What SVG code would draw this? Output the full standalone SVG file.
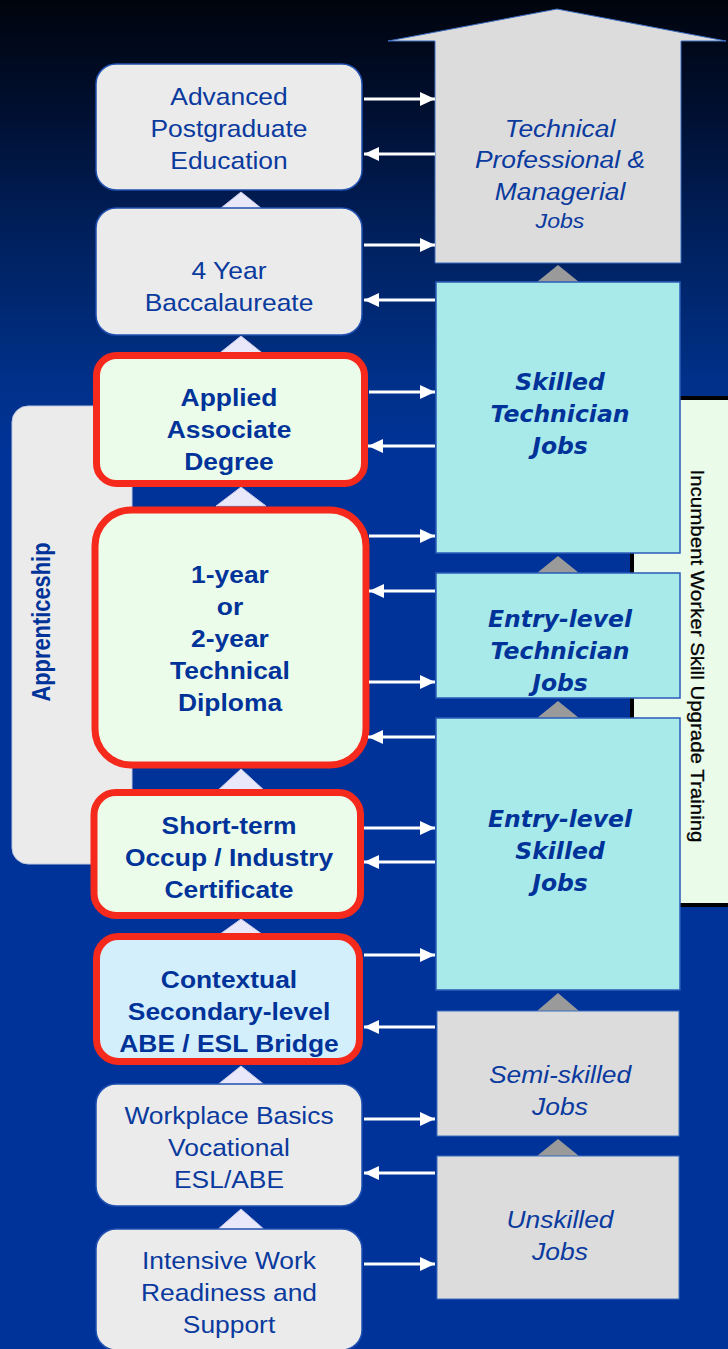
<svg xmlns="http://www.w3.org/2000/svg" width="728" height="1349" viewBox="0 0 728 1349">
  <defs>
    <linearGradient id="bg" x1="0" y1="0" x2="0" y2="1349" gradientUnits="userSpaceOnUse">
      <stop offset="0" stop-color="#00040c"/>
      <stop offset="0.08" stop-color="#000f30"/>
      <stop offset="0.18" stop-color="#00215f"/>
      <stop offset="0.28" stop-color="#003088"/>
      <stop offset="0.34" stop-color="#003399"/>
      <stop offset="1" stop-color="#003399"/>
    </linearGradient>
    <marker id="head" markerUnits="userSpaceOnUse" markerWidth="16" markerHeight="16" refX="15" refY="7" orient="auto">
      <path d="M0,0 L15,7 L0,14 z" fill="#ffffff"/>
    </marker>
    <style>
      .edu { fill: #ebebeb; stroke: #2050b0; stroke-width: 1.5; }
      .key { fill: #ebfdea; stroke: #f52a1c; stroke-width: 7; }
      .bridge { fill: #d4effc; stroke: #f52a1c; stroke-width: 7; }
      .job { fill: #dcdcdc; stroke: #3a6cc0; stroke-width: 1; }
      .tech { fill: #a8eaea; stroke: #2a5cb8; stroke-width: 1.5; }
      .up { fill: #e8e8fa; stroke: #c8c8e8; stroke-width: 1; }
      .upjob { fill: #9a9a9a; }
      .reg { font-family: "Liberation Sans", Arial, sans-serif; font-size: 24px; fill: #0a3a9e; text-anchor: middle; }
      .bold { font-family: "Liberation Sans", Arial, sans-serif; font-size: 24px; font-weight: bold; fill: #003399; text-anchor: middle; }
      .ital { font-family: "Liberation Sans", Arial, sans-serif; font-size: 24px; font-style: italic; fill: #0a3a9e; text-anchor: middle; }
      .bital { font-family: "DejaVu Sans", Verdana, sans-serif; font-size: 23.5px; font-weight: bold; font-style: italic; fill: #003399; text-anchor: middle; }
      .link { stroke: #ffffff; stroke-width: 3; fill: none; marker-end: url(#head); }
    </style>
  </defs>

  <rect x="0" y="0" width="728" height="1349" fill="url(#bg)"/>

  <!-- side bands -->
  <g id="apprenticeship">
    <rect x="12" y="406" width="120" height="458" rx="16" fill="#ebebeb" stroke="#c0c8e0" stroke-width="1"/>
    <text transform="translate(50 622) rotate(-90)" font-family="Liberation Sans, Arial, sans-serif" font-size="26" font-weight="bold" fill="#003399" text-anchor="middle" textLength="159" lengthAdjust="spacingAndGlyphs">Apprenticeship</text>
  </g>
  <g id="incumbent">
    <rect x="632" y="398" width="130" height="507" rx="8" fill="#eafbea" stroke="#000000" stroke-width="4"/>
    <text transform="translate(691 656) rotate(90)" font-family="Liberation Sans, Arial, sans-serif" font-size="19" fill="#000000" stroke="#000000" stroke-width="0.3" text-anchor="middle" textLength="373" lengthAdjust="spacingAndGlyphs">Incumbent Worker Skill Upgrade Training</text>
  </g>

  <!-- upward steps between education levels -->
  <g id="steps">
    <polygon class="up" points="216,212 241,192 266,212"/>
    <polygon class="up" points="216,356 241,336 266,356"/>
    <polygon class="up" points="216,506 241,487 266,506"/>
    <polygon class="up" points="216,792 241,769 266,792"/>
    <polygon class="up" points="216,937 241,919 266,937"/>
    <polygon class="up" points="216,1086 241,1066 266,1086"/>
    <polygon class="up" points="216,1231 241,1209 266,1231" fill="#ffffff"/>
    <polygon class="upjob" points="537,282 558,265 579,282"/>
    <polygon class="upjob" points="537,573 558,556 579,573"/>
    <polygon class="upjob" points="537,718 558,701 579,718"/>
    <polygon class="upjob" points="537,1011 558,993 579,1011"/>
    <polygon class="upjob" points="537,1156 558,1139 579,1156"/>
  </g>

  <!-- education column -->
  <g id="postgraduate">
    <rect class="edu" x="96" y="64" width="266" height="126" rx="20"/>
    <text class="reg" transform="matrix(1.1 0 0 1 229 0)"><tspan x="0" y="105">Advanced</tspan><tspan x="0" y="137">Postgraduate</tspan><tspan x="0" y="169">Education</tspan></text>
  </g>
  <g id="baccalaureate">
    <rect class="edu" x="96" y="208" width="266" height="127" rx="20"/>
    <text class="reg" transform="matrix(1.1 0 0 1 229 0)"><tspan x="0" y="279">4 Year</tspan><tspan x="0" y="311">Baccalaureate</tspan></text>
  </g>
  <g id="associate">
    <rect class="key" x="96.5" y="355.5" width="268" height="128" rx="20"/>
    <text class="bold" transform="matrix(1.1 0 0 1 229 0)"><tspan x="0" y="406">Applied</tspan><tspan x="0" y="438">Associate</tspan><tspan x="0" y="470">Degree</tspan></text>
  </g>
  <g id="diploma">
    <rect class="key" x="95" y="510" width="271" height="255" rx="36" stroke-width="8"/>
    <text class="bold" transform="matrix(1.1 0 0 1 230 0)"><tspan x="0" y="583">1-year</tspan><tspan x="0" y="615">or</tspan><tspan x="0" y="647">2-year</tspan><tspan x="0" y="679">Technical</tspan><tspan x="0" y="711">Diploma</tspan></text>
  </g>
  <g id="certificate">
    <rect class="key" x="94" y="792.5" width="266.5" height="123" rx="22"/>
    <text class="bold" transform="matrix(1.1 0 0 1 229 0)"><tspan x="0" y="834">Short-term</tspan><tspan x="0" y="866">Occup / Industry</tspan><tspan x="0" y="898">Certificate</tspan></text>
  </g>
  <g id="bridge">
    <rect class="bridge" x="96.5" y="936.5" width="263" height="125" rx="22"/>
    <text class="bold" transform="matrix(1.1 0 0 1 229 0)"><tspan x="0" y="988">Contextual</tspan><tspan x="0" y="1020">Secondary-level</tspan><tspan x="0" y="1052">ABE / ESL Bridge</tspan></text>
  </g>
  <g id="workplace-basics">
    <rect class="edu" x="96" y="1084" width="266" height="122" rx="20" stroke="none"/>
    <text class="reg" transform="matrix(1.1 0 0 1 229 0)"><tspan x="0" y="1124">Workplace Basics</tspan><tspan x="0" y="1156">Vocational</tspan><tspan x="0" y="1188">ESL/ABE</tspan></text>
  </g>
  <g id="work-readiness">
    <rect class="edu" x="96" y="1229" width="266" height="121" rx="20" stroke="none"/>
    <text class="reg" transform="matrix(1.1 0 0 1 229 0)"><tspan x="0" y="1269">Intensive Work</tspan><tspan x="0" y="1301">Readiness and</tspan><tspan x="0" y="1333">Support</tspan></text>
  </g>

  <!-- jobs column -->
  <g id="professional-jobs">
    <polygon class="job" points="435,263 435,41 388,41 557,9 726,41 681,41 681,263"/>
    <text class="ital" transform="matrix(1.1 0 0 1 560 0)"><tspan x="0" y="137">Technical</tspan><tspan x="0" y="168">Professional &amp;</tspan><tspan x="0" y="200">Managerial</tspan><tspan x="0" y="228" font-size="21">Jobs</tspan></text>
  </g>
  <g id="skilled-technician">
    <rect class="tech" x="436" y="282" width="244" height="271"/>
    <text class="bital"><tspan x="560" y="390">Skilled</tspan><tspan x="560" y="422">Technician</tspan><tspan x="560" y="454">Jobs</tspan></text>
  </g>
  <g id="entry-technician">
    <rect class="tech" x="436" y="573" width="244" height="125"/>
    <text class="bital"><tspan x="560" y="627">Entry-level</tspan><tspan x="560" y="659">Technician</tspan><tspan x="560" y="691">Jobs</tspan></text>
  </g>
  <g id="entry-skilled">
    <rect class="tech" x="436" y="718" width="244" height="272"/>
    <text class="bital"><tspan x="560" y="827">Entry-level</tspan><tspan x="560" y="859">Skilled</tspan><tspan x="560" y="891">Jobs</tspan></text>
  </g>
  <g id="semi-skilled">
    <rect class="job" x="437" y="1011" width="242" height="125"/>
    <text class="ital" transform="matrix(1.1 0 0 1 560 0)"><tspan x="0" y="1083">Semi-skilled</tspan><tspan x="0" y="1115">Jobs</tspan></text>
  </g>
  <g id="unskilled">
    <rect class="job" x="437" y="1156" width="242" height="143"/>
    <text class="ital" transform="matrix(1.1 0 0 1 560 0)"><tspan x="0" y="1228">Unskilled</tspan><tspan x="0" y="1260">Jobs</tspan></text>
  </g>

  <!-- connectors between education and jobs -->
  <g id="connectors">
    <line class="link" x1="364" y1="99" x2="435" y2="99"/>
    <line class="link" x1="435" y1="154" x2="364" y2="154"/>
    <line class="link" x1="364" y1="245" x2="435" y2="245"/>
    <line class="link" x1="435" y1="300" x2="364" y2="300"/>
    <line class="link" x1="369" y1="392" x2="435" y2="392"/>
    <line class="link" x1="435" y1="446" x2="368" y2="446"/>
    <line class="link" x1="369" y1="536" x2="435" y2="536"/>
    <line class="link" x1="435" y1="591" x2="369" y2="591"/>
    <line class="link" x1="369" y1="682" x2="435" y2="682"/>
    <line class="link" x1="435" y1="737" x2="368" y2="737"/>
    <line class="link" x1="364" y1="828" x2="435" y2="828"/>
    <line class="link" x1="435" y1="862" x2="364" y2="862"/>
    <line class="link" x1="364" y1="955" x2="435" y2="955"/>
    <line class="link" x1="435" y1="1027" x2="364" y2="1027"/>
    <line class="link" x1="364" y1="1119" x2="435" y2="1119"/>
    <line class="link" x1="435" y1="1173" x2="364" y2="1173"/>
    <line class="link" x1="364" y1="1264" x2="435" y2="1264"/>
  </g>
</svg>
